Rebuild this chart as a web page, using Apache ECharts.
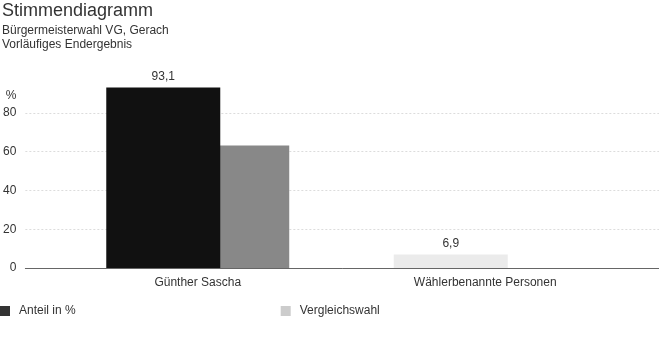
<!DOCTYPE html>
<html>
<head>
<meta charset="utf-8">
<script src="https://cdn.jsdelivr.net/npm/echarts@6/dist/echarts.min.js"></script>
<style>
  html, body { margin: 0; padding: 0; background: #fff; }
  #chart { width: 659px; height: 352px; }
</style>
</head>
<body>
<div id="chart"></div>
<script>
// Daten
const categories = ["Günther Sascha", "Wählerbenannte Personen"];
const anteil = [93.1, 6.9];
const anteilColors = ["#111111", "#ebebeb"];
const vergleich = [63.2, null];
const yTicks = [0, 20, 40, 60, 80];

const font = "Liberation Sans, Arial, sans-serif";
const fmt = v => String(v).replace(".", ",");

let chart = echarts.init(document.getElementById("chart"));

let option = {
  animation: false,
  textStyle: { fontFamily: font },
  title: {
    text: "Stimmendiagramm",
    subtext: "Bürgermeisterwahl VG, Gerach\nVorläufiges Endergebnis",
    left: 0,
    top: 2,
    padding: [0, 0, 0, 2],
    itemGap: 4,
    textStyle: { fontFamily: font, fontSize: 18, fontWeight: "normal", color: "#333" },
    subtextStyle: { fontFamily: font, fontSize: 12, color: "#333", lineHeight: 14 }
  },
  legend: {
    left: 0,
    top: 305,
    padding: 0,
    itemWidth: 10,
    itemHeight: 10,
    itemGap: 205,
    icon: "rect",
    textStyle: { fontFamily: font, fontSize: 12, color: "#333", padding: [0, 0, 0, 4] },
    data: [
      { name: "Anteil in %", itemStyle: { color: "#333" } },
      { name: "Vergleichswahl", itemStyle: { color: "#cccccc" } }
    ]
  },
  grid: [
    // Hintergrundraster über volle Breite
    { left: 22, right: 0, top: 74, bottom: 84 },
    // Balkenbereich
    { left: 54, right: 30, top: 74, bottom: 84 }
  ],
  xAxis: [
    {
      type: "category",
      gridIndex: 0,
      data: categories,
      axisLine: { lineStyle: { color: "#666" } },
      axisTick: { show: false },
      axisLabel: { show: false }
    },
    {
      type: "category",
      gridIndex: 1,
      data: categories,
      axisLine: { show: false },
      axisTick: { show: false },
      axisLabel: { fontFamily: font, fontSize: 12, color: "#333", margin: 9 }
    }
  ],
  yAxis: [
    {
      type: "value",
      gridIndex: 0,
      min: yTicks[0],
      max: 100,
      interval: 20,
      name: "%",
      nameLocation: "end",
      nameGap: -28,
      nameTextStyle: { fontFamily: font, fontSize: 12, color: "#333", align: "right", padding: [0, 9, 0, 0] },
      axisLine: { show: false },
      axisTick: { show: false },
      axisLabel: {
        fontFamily: font,
        fontSize: 12,
        color: "#333",
        margin: 9,
        showMaxLabel: false,
        formatter: v => (yTicks.includes(v) ? String(v) : "")
      },
      splitLine: {
        showMinLine: false,
        showMaxLine: false,
        lineStyle: { color: "#dcdcdc", type: [2, 2] }
      }
    },
    {
      type: "value",
      gridIndex: 1,
      min: 0,
      max: 100,
      show: false
    }
  ],
  series: [
    {
      name: "Anteil in %",
      type: "bar",
      xAxisIndex: 1,
      yAxisIndex: 1,
      barWidth: 114,
      barGap: "-39.5%",
      z: 3,
      data: anteil.map((v, i) => ({ value: v, itemStyle: { color: anteilColors[i] } })),
      itemStyle: { color: "#333" },
      label: {
        show: true,
        position: "top",
        distance: 5,
        fontFamily: font,
        fontSize: 12,
        color: "#333",
        formatter: p => fmt(p.value)
      }
    },
    {
      name: "Vergleichswahl",
      type: "bar",
      xAxisIndex: 1,
      yAxisIndex: 1,
      barWidth: 114,
      z: 2,
      data: vergleich,
      itemStyle: { color: "#888888" }
    }
  ]
};

chart.setOption(option);
</script>
</body>
</html>
